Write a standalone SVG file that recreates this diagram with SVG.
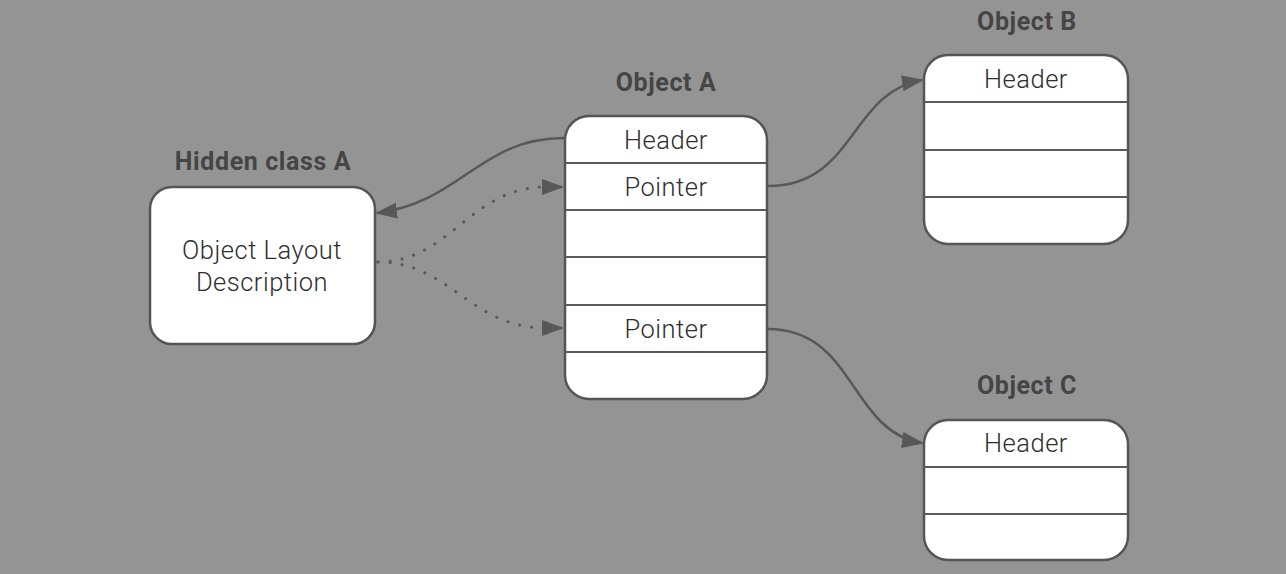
<svg xmlns="http://www.w3.org/2000/svg" width="1286" height="574" viewBox="0 0 1286 574">
<style>
.box{fill:#fff;stroke:#555;stroke-width:2.5}
.sep{stroke:#5a5a5a;stroke-width:2}
.title{font-family:Roboto,"Liberation Sans",sans-serif;font-weight:bold;font-size:25px;letter-spacing:0.6px;fill:#454545;text-anchor:middle}
.lbl{font-family:Roboto,"Liberation Sans",sans-serif;font-weight:300;font-size:25.5px;letter-spacing:0.5px;fill:#2e2e2e;text-anchor:middle}
.con{fill:none;stroke:#585858;stroke-width:2.5}
.dot{fill:none;stroke:#585858;stroke-width:3;stroke-dasharray:0.1 12;stroke-linecap:round}
</style>
<defs>
<marker id="arr" viewBox="0 0 22 16" refX="20" refY="8" markerWidth="22" markerHeight="16" markerUnits="userSpaceOnUse" orient="auto">
<path d="M0,0 L22,8 L0,16 Z" fill="#585858"/>
</marker>
</defs>
<rect width="1286" height="574" fill="#949494"/>
<g id="hidden-class-a">
<text class="title" x="263" y="170">Hidden class A</text>
<rect class="box" x="150" y="187" width="225" height="157" rx="22"/>
<text class="lbl" x="262" y="259">Object Layout</text>
<text class="lbl" x="262" y="291">Description</text>
</g>
<g id="object-a">
<text class="title" x="666" y="91">Object A</text>
<rect class="box" x="565" y="116" width="202" height="283" rx="24"/>
<line class="sep" x1="565" y1="163" x2="767" y2="163"/>
<line class="sep" x1="565" y1="210" x2="767" y2="210"/>
<line class="sep" x1="565" y1="257" x2="767" y2="257"/>
<line class="sep" x1="565" y1="305" x2="767" y2="305"/>
<line class="sep" x1="565" y1="352" x2="767" y2="352"/>
<text class="lbl" x="666" y="149">Header</text>
<text class="lbl" x="666" y="196">Pointer</text>
<text class="lbl" x="666" y="338">Pointer</text>
</g>
<g id="object-b">
<text class="title" x="1027" y="30">Object B</text>
<rect class="box" x="924" y="55" width="204" height="189" rx="24"/>
<line class="sep" x1="924" y1="102" x2="1128" y2="102"/>
<line class="sep" x1="924" y1="150" x2="1128" y2="150"/>
<line class="sep" x1="924" y1="197" x2="1128" y2="197"/>
<text class="lbl" x="1026" y="88">Header</text>
</g>
<g id="object-c">
<text class="title" x="1027" y="394">Object C</text>
<rect class="box" x="924" y="420" width="204" height="140" rx="24"/>
<line class="sep" x1="924" y1="467" x2="1128" y2="467"/>
<line class="sep" x1="924" y1="514" x2="1128" y2="514"/>
<text class="lbl" x="1026" y="452">Header</text>
</g>
<g id="connectors">
<path class="con" d="M564,138 C480,138 460,203 377,213" marker-end="url(#arr)"/>
<path class="dot" d="M378,262 C450,262 470,187 546,187"/>
<path class="dot" d="M378,262 C450,262 470,328 546,328"/>
<path class="con" d="M546,187 L562,187" marker-end="url(#arr)"/>
<path class="con" d="M546,328 L562,328" marker-end="url(#arr)"/>
<path class="con" d="M768,186 C855,186 850,92 922,80" marker-end="url(#arr)"/>
<path class="con" d="M768,329 C855,329 850,432 922,443" marker-end="url(#arr)"/>
</g>
</svg>
